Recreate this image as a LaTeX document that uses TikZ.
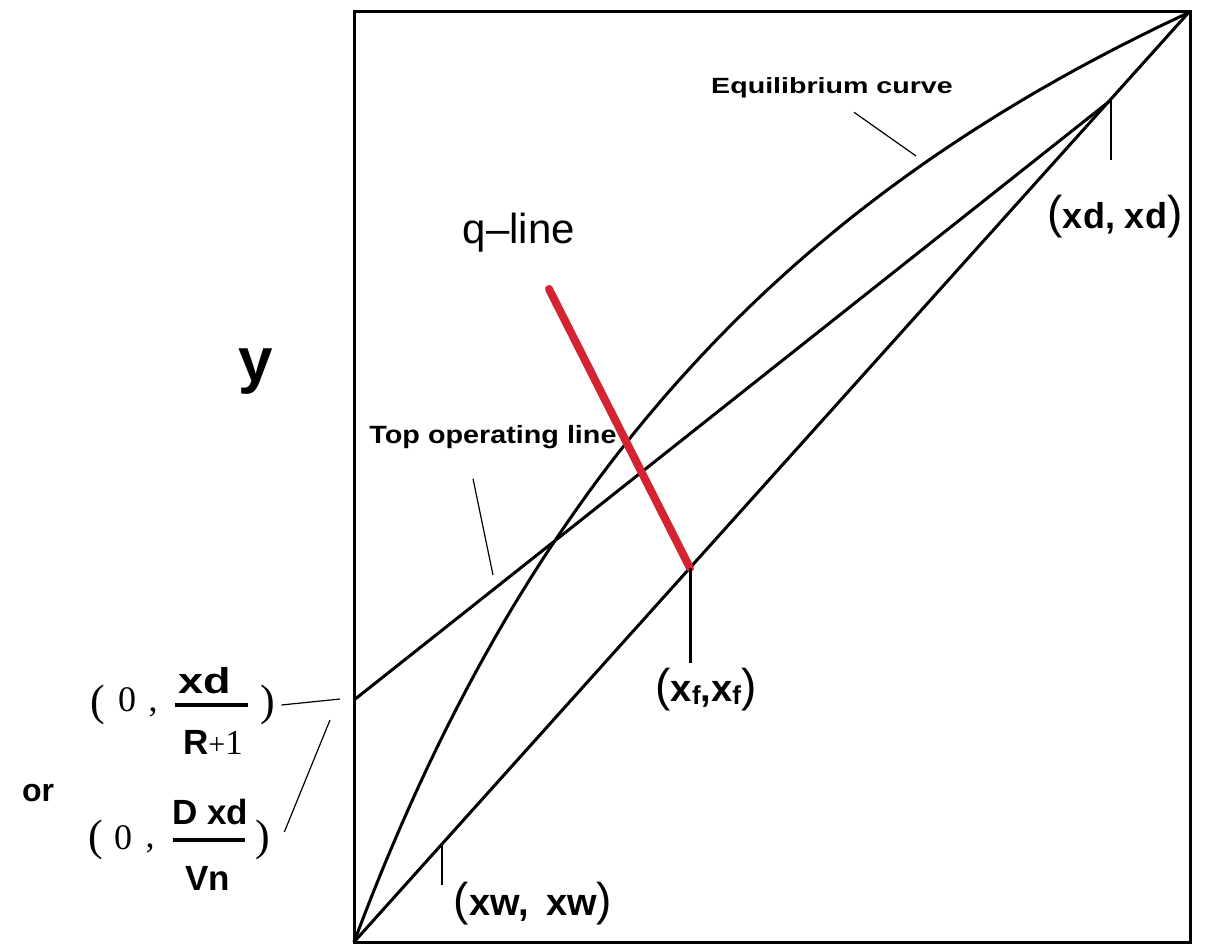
\documentclass[tikz,border=0pt]{standalone}
\usepackage{graphicx}
\usepackage{fontspec}
\setmainfont{Liberation Serif}
\setsansfont{Liberation Sans}
\definecolor{qred}{RGB}{212,36,50}
\newcommand\myfs[1]{\fontsize{#1}{#1}\selectfont}
\newcommand\lpar{{\mdseries\myfs{46}(}}
\newcommand\rpar{{\mdseries\myfs{46})}}
\tikzset{
  thick line/.style={line width=3pt, line join=round},
  leader/.style={line width=1.2pt},
  lab/.style={font=\sffamily\bfseries, inner sep=0pt, outer sep=0pt},
  serifl/.style={font=\rmfamily, inner sep=0pt, outer sep=0pt},
}
\begin{document}
\begin{tikzpicture}[x=1pt,y=-1pt]
\useasboundingbox (0,0) rectangle (1207,946);
\fill[white] (0,0) rectangle (1207,946);
% key points
\coordinate (TL) at (354,11);
\coordinate (BR) at (1190,942);
\coordinate (O) at (354,942);
\coordinate (TR) at (1190,11);
\coordinate (D) at (1111,100);
\coordinate (F) at (690,568);
\coordinate (W) at (442,844);
\coordinate (T0) at (354,700);
\coordinate (Q) at (549,289);
% frame
\draw[line width=3pt] (TL) rectangle (BR);
% diagonal
\draw[thick line] (O) -- (TR);
% top operating line
\draw[thick line] (T0) -- (D);
% equilibrium curve
\draw[thick line] plot[domain=0:1, samples=90, variable=\t]
  ({354+836*\t},{942-930*(2.4*\t/(1+1.4*\t))});
% q-line
\draw[line width=8pt, qred, line cap=round] (Q) -- (F);
% ticks
\coordinate (Dt) at (1111,160);
\coordinate (Ft) at (690,663);
\coordinate (Wt) at (442,885);
\draw[line width=2pt] (D) -- (Dt);
\draw[line width=3pt] (F) -- (Ft);
\draw[line width=2pt] (W) -- (Wt);
% labels
\node[lab] (eq) at (832,88) {\myfs{22}\scalebox{1.3}[1]{Equilibrium curve}};
\coordinate (eqpt) at (916,156);
\draw[leader] ([shift={(22,14)}]eq.south) -- (eqpt);
\node[lab] (top) at (493,437) {\myfs{25}\scalebox{1.15}[1]{Top operating line}};
\coordinate (toppt) at (493,575);
\draw[leader] ([shift={(-20,30)}]top.south) -- (toppt);
\node[lab, font=\sffamily] (ql) at (519,233) {\myfs{42}q\textendash line};
\node[lab] (ylab) at (256,372) {\myfs{62}y};
\node[lab] (xdl) at (1115,217) {\myfs{36}\lpar xd, xd\rpar};
\node[lab] (xfl) at (706,690) {\myfs{38}\lpar x{\myfs{26}\raisebox{-3pt}{f}},x{\myfs{26}\raisebox{-3pt}{f}}\rpar};
\node[lab] (xwl) at (533,904) {\myfs{38}\lpar xw,\ \,xw\rpar};
\node[lab] (or) at (38,793) {\myfs{32}or};
% first intercept label
\node[serifl] (p1l) at (98,705) {\myfs{44}(};
\node[serifl] (z1) at (127,700) {\myfs{36}0};
\node[serifl] (c1) at (153,712) {\myfs{36},};
\node[lab] (n1) at (205,681) {\myfs{36}\scalebox{1.25}[1]{xd}};
\node[lab] (d1) at (213,742) {\myfs{35}R{\rmfamily\mdseries\myfs{30}+}{\rmfamily\mdseries 1}};
\draw[line width=4pt] (175,705) -- (248,705);
\node[serifl] (p1r) at (268,705) {\myfs{44})};
\coordinate (L1) at (340,699);
\draw[leader] ([xshift=6pt]p1r.east) -- (L1);
% second intercept label
\node[serifl] (p2l) at (96,840) {\myfs{44}(};
\node[serifl] (z2) at (123,838) {\myfs{36}0};
\node[serifl] (c2) at (150,848) {\myfs{36},};
\node[lab] (n2) at (210,812) {\myfs{35}D xd};
\node[lab] (d2) at (208,878) {\myfs{35}Vn};
\draw[line width=4pt] (173,840) -- (245,840);
\node[serifl] (p2r) at (263,840) {\myfs{44})};
\coordinate (L2) at (330,720);
\draw[leader] ([shift={(14,-8)}]p2r.east) -- (L2);
\end{tikzpicture}
\end{document}
